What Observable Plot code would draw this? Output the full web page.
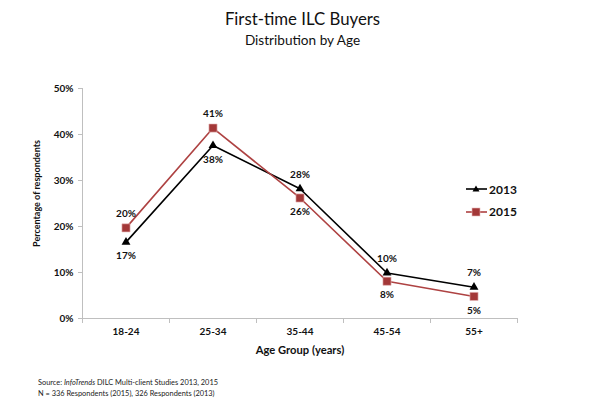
<!DOCTYPE html>
<html>
<head>
<meta charset="utf-8">
<script src="https://cdn.jsdelivr.net/npm/d3@7"></script>
<script src="https://cdn.jsdelivr.net/npm/@observablehq/plot@0.6"></script>
<style>
  body { margin: 0; background: #fff; font-family: Lato, "Open Sans", sans-serif; }
  #wrap { position: relative; width: 605px; height: 400px; overflow: hidden; }
  #title { position: absolute; left: 0; width: 605px; top: 8px; text-align: center; font-size: 16.8px; color: #111; line-height: 22px; }
  #subtitle { position: absolute; left: 0; width: 605px; top: 31px; text-align: center; font-size: 13.6px; color: #111; line-height: 18px; }
  #chart { position: absolute; left: 0; top: 58px; }
  #legend { position: absolute; left: 465px; top: 178px; font-size: 12px; font-weight: bold; color: #111; }
  #legend .row { display: flex; align-items: center; height: 22.5px; }
  #legend svg { margin-right: 1px; }
  #caption { position: absolute; left: 38px; top: 377px; font-size: 7.4px; line-height: 11px; color: #222; }
</style>
</head>
<body>
<div id="wrap">
  <div id="title">First-time ILC Buyers</div>
  <div id="subtitle">Distribution by Age</div>
  <div id="chart"></div>
  <div id="legend"></div>
  <div id="caption">Source: <i>InfoTrends</i> DILC Multi-client Studies 2013, 2015<br>N = 336 Respondents (2015), 326 Respondents (2013)</div>
</div>
<script>
const categories = ["18-24", "25-34", "35-44", "45-54", "55+"];
const values2013 = [0.166, 0.376, 0.282, 0.099, 0.068];
const values2015 = [0.197, 0.414, 0.262, 0.081, 0.048];
const seriesNames = ["2013", "2015"];
const yTicks = [0, 0.1, 0.2, 0.3, 0.4, 0.5];

const colors = {"2013": "#000000", "2015": "#AE4242"};
const markerColors = {"2013": "#000000", "2015": "#A33838"};

const series = {"2013": values2013, "2015": values2015};
const rows = [];
for (const s of seriesNames) {
  const other = s === "2013" ? values2015 : values2013;
  series[s].forEach((v, i) => rows.push({series: s, i, cat: categories[i], value: v, above: v >= other[i]}));
}
const idx = categories.map((c, i) => i);
const bounds = [...idx.map(i => i - 0.5), categories.length - 0.5];

const gray = "#BFBFBF";
const chart = Plot.plot({
  width: 605,
  height: 314,
  marginLeft: 82,
  marginRight: 88,
  marginTop: 30,
  marginBottom: 54,
  style: {fontFamily: "Lato, 'Open Sans', sans-serif", fontSize: "10px", color: "#111", background: "transparent"},
  x: {type: "linear", domain: [-0.5, categories.length - 0.5], axis: null},
  y: {domain: [0, 0.5], axis: null},
  marks: [
    Plot.ruleY([0], {stroke: gray}),
    Plot.ruleX([-0.5], {stroke: gray}),
    Plot.axisY({ticks: yTicks, tickFormat: d3.format(".0%"), tickSize: 4, tickPadding: 5, stroke: gray, fontWeight: "bold", fill: "#111", label: null}),
    Plot.axisX({ticks: bounds, tickSize: 5, tickFormat: () => "", stroke: gray, label: null}),
    Plot.axisX({ticks: idx, tickSize: 0, tickPadding: 9, tickFormat: i => categories[i], fontWeight: "bold", fill: "#111", label: null}),
    Plot.text(["Percentage of respondents"], {frameAnchor: "left", textAnchor: "middle", dx: -45, dy: -10, rotate: -90, fontWeight: "bold", fontSize: 9, fill: "#111"}),
    Plot.text(["Age Group (years)"], {frameAnchor: "bottom", dy: 35, fontWeight: "bold", fontSize: 11.2, fill: "#111"}),
    Plot.line(rows, {x: "i", y: "value", z: "series", stroke: d => colors[d.series], strokeWidth: 1.6}),
    Plot.dot(rows.filter(d => d.series === "2015"), {x: "i", y: "value", symbol: "square", r: 4.6, fill: markerColors["2015"], stroke: "#E8B8B8", strokeWidth: 0.6}),
    Plot.dot(rows.filter(d => d.series === "2013"), {x: "i", y: "value", symbol: "triangle", r: 3.3, fill: markerColors["2013"]}),
    Plot.text(rows.filter(d => d.above), {x: "i", y: "value", text: d => d3.format(".0%")(d.value), dy: -14, fontWeight: "bold", fontSize: 10, fill: "#111"}),
    Plot.text(rows.filter(d => !d.above), {x: "i", y: "value", text: d => d3.format(".0%")(d.value), dy: 14, fontWeight: "bold", fontSize: 10, fill: "#111"})
  ]
});
document.getElementById("chart").appendChild(chart);

const legend = document.getElementById("legend");
for (const s of seriesNames) {
  const row = document.createElement("div");
  row.className = "row";
  const sym = s === "2013"
    ? `<path d="M11,2.5 L14.5,8.5 L7.5,8.5 Z" fill="${markerColors[s]}"/>`
    : `<rect x="7" y="2" width="8" height="8" fill="${markerColors[s]}" stroke="#E8B8B8" stroke-width="0.6"/>`;
  row.innerHTML = `<svg width="23" height="12"><line x1="1" x2="22" y1="6" y2="6" stroke="${colors[s]}" stroke-width="1.6"/>${sym}</svg><span>${s}</span>`;
  legend.appendChild(row);
}
</script>
</body>
</html>
